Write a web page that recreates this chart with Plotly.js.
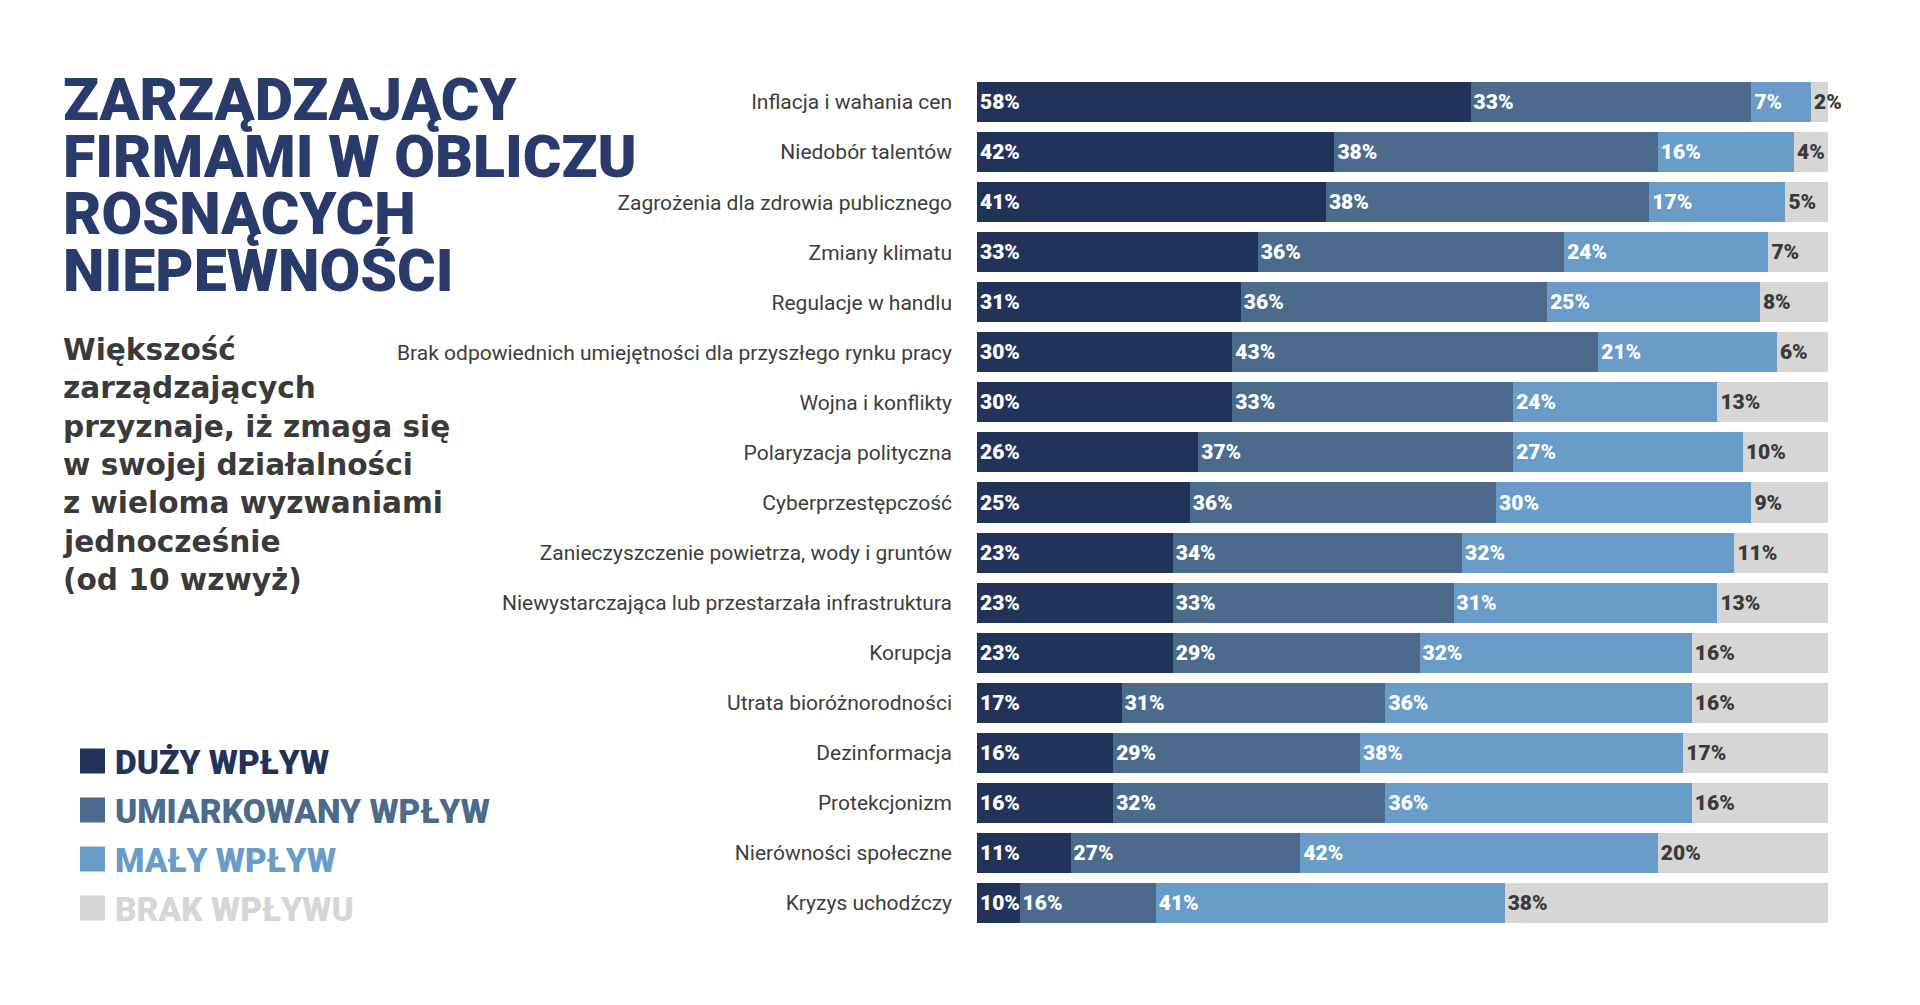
<!DOCTYPE html>
<html>
<head>
<meta charset="utf-8">
<script src="https://cdn.plot.ly/plotly-3.0.1.min.js"></script>
<style>
  html, body { margin: 0; padding: 0; background: #ffffff; }
  #chart { width: 1920px; height: 1005px; }
</style>
</head>
<body>
<div id="chart"></div>
<script>
// ---------- DATA ----------
const categories = [
  "Inflacja i wahania cen",
  "Niedobór talentów",
  "Zagrożenia dla zdrowia publicznego",
  "Zmiany klimatu",
  "Regulacje w handlu",
  "Brak odpowiednich umiejętności dla przyszłego rynku pracy",
  "Wojna i konflikty",
  "Polaryzacja polityczna",
  "Cyberprzestępczość",
  "Zanieczyszczenie powietrza, wody i gruntów",
  "Niewystarczająca lub przestarzała infrastruktura",
  "Korupcja",
  "Utrata bioróżnorodności",
  "Dezinformacja",
  "Protekcjonizm",
  "Nierówności społeczne",
  "Kryzys uchodźczy"
];
// segment widths as drawn in the picture
const duzyWplyw         = [58, 42, 41, 33, 31, 30, 30, 26, 25, 23, 23, 23, 17, 16, 16, 11, 5];
const umiarkowanyWplyw  = [33, 38, 38, 36, 36, 43, 33, 37, 36, 34, 33, 29, 31, 29, 32, 27, 16];
const malyWplyw         = [7, 16, 16, 24, 25, 21, 24, 27, 30, 32, 31, 32, 36, 38, 36, 42, 41];
const brakWplywu        = [2, 4, 5, 7, 8, 6, 13, 10, 9, 11, 13, 16, 16, 17, 16, 20, 38];
// printed labels that differ from the drawn widths in the original graphic
const printedDuzy = {16: 10};
const printedMaly = {2: 17};

const seriesNames = ["DUŻY WPŁYW", "UMIARKOWANY WPŁYW", "MAŁY WPŁYW", "BRAK WPŁYWU"];
const seriesColors = ["#22335a", "#4c6a8b", "#699cc8", "#d6d6d6"];
const labelColors = ["#ffffff", "#ffffff", "#ffffff", "#3a3a3a"];

const titleLines = ["ZARZĄDZAJĄCY", "FIRMAMI W OBLICZU", "ROSNĄCYCH", "NIEPEWNOŚCI"];
const subtitleLines = [
  "Większość",
  "zarządzających",
  "przyznaje, iż zmaga się",
  "w swojej działalności",
  "z wieloma wyzwaniami",
  "jednocześnie",
  "(od 10 wzwyż)"
];

// ---------- LAYOUT GEOMETRY ----------
const W = 1920, H = 1005;
const plotL = 977, plotR = 1828, plotT = 77, plotB = 928;
const px = x => (x - plotL) / (plotR - plotL);
const py = y => (plotB - y) / (plotB - plotT);

function labelsFor(values, overrides) {
  return values.map((v, i) => ((overrides && overrides[i] !== undefined) ? overrides[i] : v) + "%");
}

const allValues = [duzyWplyw, umiarkowanyWplyw, malyWplyw, brakWplywu];
const allOverrides = [printedDuzy, null, printedMaly, null];

const traces = allValues.map((vals, k) => ({
  type: "bar",
  orientation: "h",
  name: seriesNames[k],
  y: categories,
  x: vals,
  text: labelsFor(vals, allOverrides[k]),
  texttemplate: "%{text}",
  textposition: "inside",
  insidetextanchor: "start",
  textangle: 0,
  constraintext: "none",
  cliponaxis: false,
  textfont: { family: "Roboto", size: 21, color: labelColors[k], weight: 900 },
  marker: { color: seriesColors[k], line: { width: 0 } },
  hoverinfo: "skip",
  showlegend: false
}));

const annotations = [];
const shapes = [];

// title
titleLines.forEach((t, i) => {
  annotations.push({
    xref: "paper", yref: "paper",
    x: px(61), y: py(99 + i * 57),
    xanchor: "left", yanchor: "middle",
    text: t, showarrow: false,
    font: { family: "Roboto", size: 59, color: "#283b6a", weight: 900 }
  });
});

// subtitle
subtitleLines.forEach((t, i) => {
  annotations.push({
    xref: "paper", yref: "paper",
    x: px(61), y: py(350 + i * 38.3),
    xanchor: "left", yanchor: "middle",
    text: t, showarrow: false,
    font: { family: "DejaVu Sans", size: 29.6, color: "#3a3a3a", weight: "bold" }
  });
});

// custom legend
seriesNames.forEach((n, i) => {
  const cy = 761 + i * 49;
  shapes.push({
    type: "rect", xref: "paper", yref: "paper",
    x0: px(80), x1: px(105), y0: py(cy - 12.5), y1: py(cy + 12.5),
    fillcolor: seriesColors[i], line: { width: 0 }
  });
  annotations.push({
    xref: "paper", yref: "paper",
    x: px(113), y: py(cy + 1),
    xanchor: "left", yanchor: "middle",
    text: n, showarrow: false,
    font: { family: "Roboto", size: 33.5, color: seriesColors[i], weight: 900 }
  });
});

const layout = {
  width: W, height: H,
  paper_bgcolor: "#ffffff",
  plot_bgcolor: "#ffffff",
  barmode: "stack",
  bargap: 0.2,
  margin: { l: plotL, r: W - plotR, t: plotT, b: H - plotB, pad: 0 },
  showlegend: false,
  xaxis: {
    range: [0, 100], visible: false, fixedrange: true
  },
  yaxis: {
    type: "category",
    autorange: "reversed",
    showgrid: false, zeroline: false, showline: false,
    ticks: "",
    ticklabelstandoff: 24,
    tickfont: { family: "Roboto", size: 21, color: "#3d3d3d" },
    fixedrange: true
  },
  annotations: annotations,
  shapes: shapes,
  font: { family: "Roboto" }
};

Plotly.newPlot("chart", traces, layout, { displayModeBar: false, staticPlot: true });
</script>
</body>
</html>
